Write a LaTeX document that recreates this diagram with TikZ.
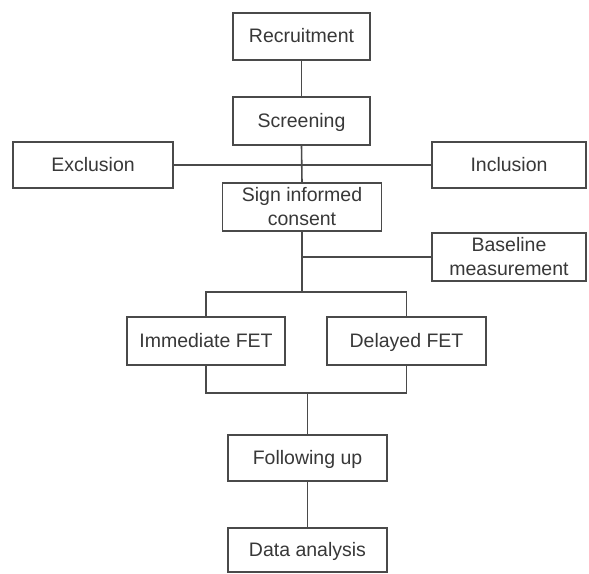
\documentclass[tikz,border=0pt]{standalone}
\usepackage{fontspec}
\setmainfont{Liberation Sans}
\definecolor{linec}{HTML}{4A4A4A}
\definecolor{textc}{HTML}{383838}
\begin{document}
\begin{tikzpicture}[x=1pt,y=-1pt,
  box/.style={draw=linec,line width=1.6pt,rectangle,inner sep=0pt,outer sep=0pt,
    text=textc,align=center,font=\fontsize{19.5}{24}\selectfont},
  one/.style={text height=15pt,text depth=3pt},
  conn/.style={draw=linec,line width=1.6pt}]
\useasboundingbox[fill=white] (0,0) rectangle (589,573);
\node[box,one,minimum width=137pt,minimum height=47pt] (rec) at (301.5,36.5) {Recruitment};
\node[box,one,minimum width=137pt,minimum height=48pt] (scr) at (301.5,121) {Screening};
\node[box,one,minimum width=160pt,minimum height=46pt] (exc) at (93,165) {Exclusion};
\node[box,one,minimum width=154pt,minimum height=46pt] (inc) at (509,165) {Inclusion};
\node[box,minimum width=159pt,minimum height=48pt] (sig) at (302,207) {Sign informed\\consent};
\node[box,minimum width=154pt,minimum height=48pt] (bas) at (509,257) {Baseline\\measurement};
\node[box,one,minimum width=158pt,minimum height=48pt] (imm) at (206,341) {Immediate FET};
\node[box,one,minimum width=159pt,minimum height=48pt] (del) at (406.5,341) {Delayed FET};
\node[box,one,minimum width=159pt,minimum height=46pt] (fol) at (307.5,458) {Following up};
\node[box,one,minimum width=159pt,minimum height=44pt] (dat) at (307.5,550) {Data analysis};
\coordinate (split) at (302,292);
\coordinate (merge) at (307.5,393);
\draw[conn] (rec.south) -- (scr.north);
\draw[conn] (scr.south) -- (sig.north);
\draw[conn] (exc.east) -- (inc.west);
\draw[conn] (sig.south) -- (split);
\draw[conn] (sig.south |- bas.west) -- (bas.west);
\draw[conn] (imm.north) |- (split) -| (del.north);
\draw[conn] (imm.south) |- (merge) -| (del.south);
\draw[conn] (merge) -- (fol.north);
\draw[conn] (fol.south) -- (dat.north);
\end{tikzpicture}
\end{document}
